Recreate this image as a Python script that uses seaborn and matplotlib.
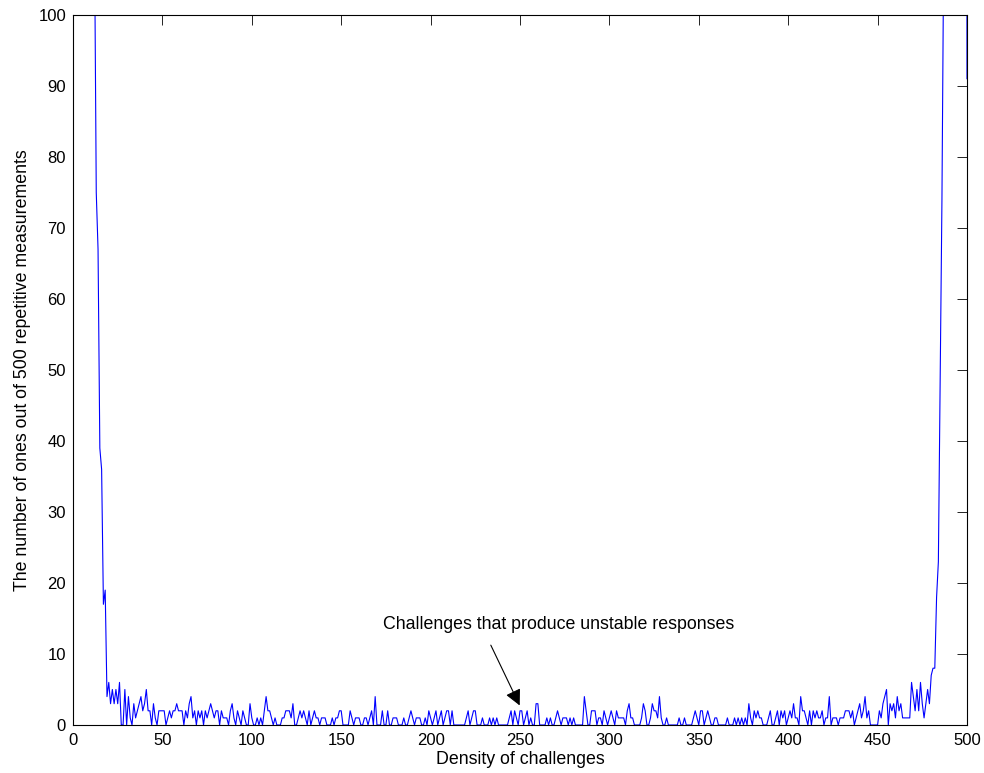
import numpy as np
import pandas as pd
import matplotlib
matplotlib.use("Agg")
import matplotlib.pyplot as plt
import seaborn as sns

# counts, one value per challenge density 0..500
left_tail = [500, 499, 497, 490, 478, 455, 420, 375, 320, 260, 205, 158, 112,
             75, 67, 39, 36, 17, 19, 4]
noise_20_48 = [6, 3, 5, 3, 5, 3, 6, 0, 0, 5, 0, 4, 1, 0, 3, 1, 2, 3, 4, 2,
               3, 5, 2, 2, 0, 3, 1, 0, 2]
noise_49_91 = [2, 2, 2, 0, 1, 2, 1, 2, 2, 3, 2, 2, 2, 0, 2, 1, 3, 4, 1, 2,
               0, 2, 1, 2, 0, 2, 1, 2, 3, 2, 1, 2, 2, 0, 2, 1, 1, 1, 0, 2,
               3, 1, 0]
noise_92_128 = [2, 1, 0, 2, 1, 0, 0, 3, 1, 0, 0, 1, 0, 1, 0, 2, 4, 2, 2, 1,
                0, 1, 0, 0, 0, 1, 1, 2, 2, 2, 1, 3, 0, 0, 1, 2, 1]
noise_129_168 = [2, 1, 0, 2, 0, 1, 2, 1, 1, 0, 1, 1, 1, 0, 0, 0, 1, 0, 1, 1,
                 2, 2, 0, 0, 0, 0, 2, 1, 0, 1, 1, 1, 0, 0, 1, 1, 0, 1, 2, 0]
noise_169_209 = [4, 0, 0, 0, 2, 0, 0, 2, 0, 0, 1, 1, 1, 0, 0, 0, 1, 0, 0, 1,
                 2, 1, 0, 1, 1, 1, 0, 0, 1, 0, 2, 1, 0, 1, 2, 0, 1, 2, 0, 1,
                 2]
noise_210_249 = [2, 0, 2, 0, 0, 0, 0, 0, 0, 0, 1, 2, 0, 1, 2, 2, 0, 0, 0, 1,
                 0, 0, 0, 1, 0, 1, 0, 1, 0, 0, 0, 0, 0, 0, 1, 2, 0, 2, 1, 0]
noise_250_289 = [2, 2, 0, 1, 2, 0, 1, 0, 0, 3, 3, 0, 0, 0, 0, 1, 0, 1, 0, 0,
                 1, 2, 1, 0, 1, 1, 1, 0, 1, 0, 1, 0, 0, 0, 0, 0, 4, 2, 0, 0]
noise_290_330 = [2, 2, 2, 0, 1, 1, 0, 2, 1, 0, 1, 2, 1, 0, 2, 1, 1, 1, 1, 0,
                 2, 3, 1, 1, 0, 0, 0, 0, 1, 3, 2, 0, 0, 1, 3, 2, 2, 1, 4, 1,
                 0]
noise_331_370 = [0, 1, 0, 0, 0, 0, 0, 0, 1, 0, 0, 1, 0, 0, 0, 0, 1, 2, 1, 0,
                 2, 2, 0, 1, 2, 1, 0, 0, 1, 1, 0, 0, 0, 0, 0, 1, 0, 0, 0, 1]
noise_371_410 = [0, 1, 0, 1, 0, 1, 0, 3, 1, 0, 2, 1, 2, 1, 1, 0, 0, 0, 1, 2,
                 0, 0, 1, 2, 0, 2, 1, 2, 0, 1, 2, 1, 3, 1, 1, 0, 4, 2, 2, 1]
noise_411_449 = [0, 2, 0, 2, 1, 2, 1, 1, 2, 0, 1, 1, 4, 0, 1, 1, 1, 0, 1, 1,
                 1, 2, 2, 2, 1, 2, 0, 1, 2, 3, 1, 2, 4, 1, 2, 0, 0, 0, 0]
noise_450_482 = [0, 2, 1, 3, 4, 5, 0, 3, 2, 3, 1, 4, 2, 3, 1, 1, 1, 1, 1, 6,
                 4, 2, 5, 2, 6, 3, 1, 3, 5, 3, 7, 8, 8]
right_tail = [18, 23, 48, 74, 110, 150, 200, 250, 300, 345, 385, 420, 450,
              470, 485, 493, 497, 91]

counts = (left_tail + noise_20_48 + noise_49_91 + noise_92_128 + noise_129_168
          + noise_169_209 + noise_210_249 + noise_250_289 + noise_290_330
          + noise_331_370 + noise_371_410 + noise_411_449 + noise_450_482
          + right_tail)
density = list(range(len(counts)))

df = pd.DataFrame({"density": density, "ones": counts})

sns.set_style("white")
plt.rcParams["font.family"] = ["Liberation Sans", "DejaVu Sans"]
plt.rcParams["text.color"] = "black"
plt.rcParams["axes.labelcolor"] = "black"

fig = plt.figure(figsize=(9.84, 7.73), dpi=100)
ax = fig.add_axes([0.0742, 0.0621, 0.9085, 0.9185])

sns.lineplot(data=df, x="density", y="ones", color="#0000ff", lw=0.8, ax=ax)

ax.set_xlim(0, 500)
ax.set_ylim(0, 100)
ax.set_xticks(np.arange(0, 501, 50))
ax.set_yticks(np.arange(0, 101, 10))
ax.tick_params(direction="in", top=True, right=True, length=7, width=0.6,
               labelsize=12, colors="black")
ax.tick_params(axis="x", pad=6)
ax.tick_params(axis="y", pad=5)
for s in ax.spines.values():
    s.set_visible(True)
    s.set_color("black")
    s.set_linewidth(0.8)

ax.set_xlabel("Density of challenges", fontsize=12.8, labelpad=2)
ax.set_ylabel("The number of ones out of 500 repetitive measurements",
              fontsize=12.8, labelpad=5)

ax.annotate("", xy=(250.5, 2.4), xytext=(233, 11.6),
            arrowprops=dict(arrowstyle="-|>", color="black", lw=0.8,
                            mutation_scale=24))
ax.text(173.5, 14.1, "Challenges that produce unstable responses",
        fontsize=12.8, va="center", ha="left")

fig.savefig("out.png", dpi=100)
